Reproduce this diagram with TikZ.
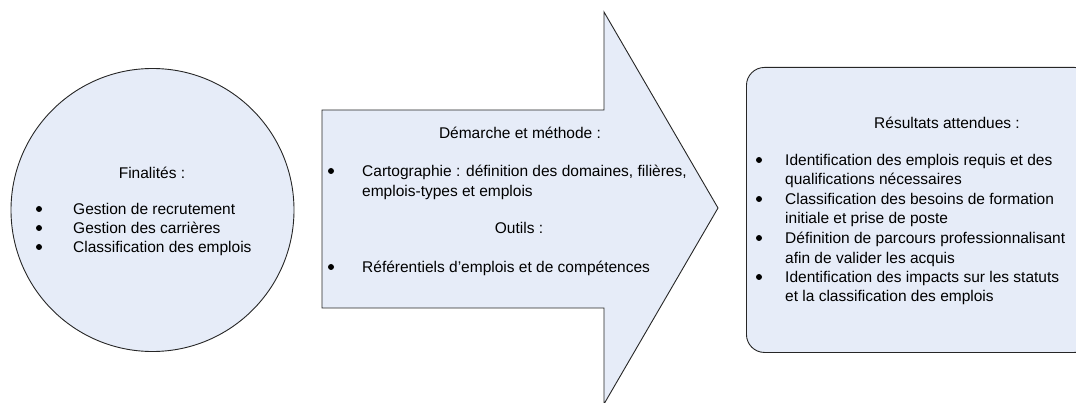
\documentclass[tikz,border=0pt]{standalone}
\usepackage{fontspec}
\setmainfont{Liberation Sans}
\definecolor{paleblue}{RGB}{230,236,248}
\tikzset{
  shapebox/.style={draw=black!85, fill=paleblue, line width=0.9pt},
  txt/.style={inner sep=0pt, font=\fontsize{15.5}{19.5}\selectfont},
  item/.style={txt, anchor=north west, align=left},
  bul/.style={circle, fill, inner sep=0pt, minimum size=6pt}
}
\begin{document}
\begin{tikzpicture}[x=1pt,y=-1pt]
\useasboundingbox (0,0) rectangle (1076,403);
% finalites
\node[shapebox, circle, minimum size=283pt] (fin) at (152.5,210){};
\node[txt] (finT) at (152,173){Finalités :};
\node[bul] (fb1) at (39,209){};
\node[bul] (fb2) at (39,228){};
\node[bul] (fb3) at (39,247){};
\node[item] (fi1) at (73,203){Gestion de recrutement};
\node[item] (fi2) at (73,222){Gestion des carrières};
\node[item] (fi3) at (73,241){Classification des emplois};
% demarche
\draw[shapebox] (322,110) -- (604,110) -- (604,12) -- (718,208)
  -- (604,404) -- (604,308) -- (322,308) -- cycle;
\node[txt] (demT) at (520,133){Démarche et méthode :};
\node[bul] (db1) at (331,171){};
\node[item] (di1) at (362,165){Cartographie : définition des domaines, filières,\\emplois-types et emplois};
\node[txt] (outT) at (519,228){Outils :};
\node[bul] (db2) at (331,267){};
\node[item] (di2) at (362,261){Référentiels d’emplois et de compétences};
% resultats
\node[shapebox, rectangle, rounded corners=18pt, anchor=north west,
  minimum width=346pt, minimum height=285pt] (res) at (746,67){};
\node[txt] (resT) at (947,123){Résultats attendues :};
\node[bul] (rb1) at (759,160){};
\node[bul] (rb2) at (759,199){};
\node[bul] (rb3) at (759,238){};
\node[bul] (rb4) at (759,277){};
\node[item] (ri1) at (785,154){Identification des emplois requis et des\\qualifications nécessaires};
\node[item] (ri2) at (785,193){Classification des besoins de formation\\initiale et prise de poste};
\node[item] (ri3) at (785,232){Définition de parcours professionnalisant\\afin de valider les acquis};
\node[item] (ri4) at (785,271){Identification des impacts sur les statuts\\et la classification des emplois};
\end{tikzpicture}
\end{document}
